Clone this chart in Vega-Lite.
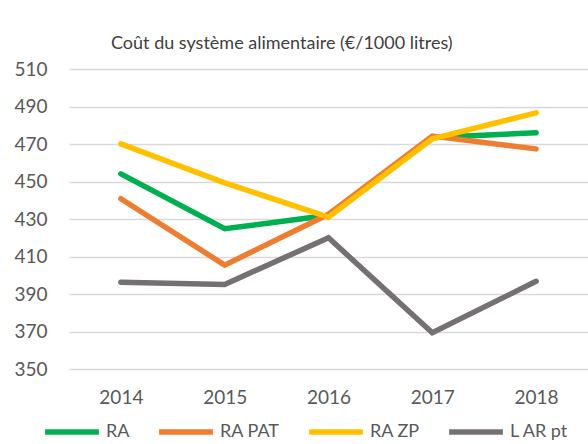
{
  "$schema": "https://vega.github.io/schema/vega-lite/v6.json",
  "width": 519,
  "height": 300,
  "autosize": {"type": "none"},
  "padding": {"left": 69, "top": 69, "right": 0, "bottom": 75},
  "background": "white",
  "config": {
    "view": {"stroke": null},
    "font": "Lato"
  },
  "title": {
    "text": "Coût du système alimentaire (€/1000 litres)",
    "anchor": "start",
    "frame": "group",
    "dx": 42,
    "offset": -7,
    "baseline": "alphabetic",
    "fontSize": 18,
    "fontWeight": "normal",
    "color": "#404040",
    "font": "Lato"
  },
  "data": {
    "values": [
      {"annee": "2014", "serie": "RA", "cout": 454.1},
      {"annee": "2015", "serie": "RA", "cout": 424.8},
      {"annee": "2016", "serie": "RA", "cout": 432},
      {"annee": "2017", "serie": "RA", "cout": 473.5},
      {"annee": "2018", "serie": "RA", "cout": 476},
      {"annee": "2014", "serie": "RA PAT", "cout": 440.8},
      {"annee": "2015", "serie": "RA PAT", "cout": 405.4},
      {"annee": "2016", "serie": "RA PAT", "cout": 432.5},
      {"annee": "2017", "serie": "RA PAT", "cout": 474.2},
      {"annee": "2018", "serie": "RA PAT", "cout": 467.4},
      {"annee": "2014", "serie": "RA ZP", "cout": 470.1},
      {"annee": "2015", "serie": "RA ZP", "cout": 449.3},
      {"annee": "2016", "serie": "RA ZP", "cout": 431},
      {"annee": "2017", "serie": "RA ZP", "cout": 472.8},
      {"annee": "2018", "serie": "RA ZP", "cout": 486.6},
      {"annee": "2014", "serie": "L AR pt", "cout": 396.3},
      {"annee": "2015", "serie": "L AR pt", "cout": 395.1},
      {"annee": "2016", "serie": "L AR pt", "cout": 420},
      {"annee": "2017", "serie": "L AR pt", "cout": 369.3},
      {"annee": "2018", "serie": "L AR pt", "cout": 396.8}
    ]
  },
  "mark": {"type": "line", "strokeWidth": 5.5, "strokeCap": "round", "strokeJoin": "miter"},
  "encoding": {
    "x": {
      "field": "annee",
      "type": "ordinal",
      "scale": {"type": "point", "padding": 0.5},
      "axis": {
        "title": null,
        "domain": false,
        "ticks": false,
        "grid": false,
        "labelAngle": 0,
        "labelPadding": 19,
        "labelFontSize": 19,
        "labelColor": "#595959",
        "labelFont": "Lato"
      }
    },
    "y": {
      "field": "cout",
      "type": "quantitative",
      "scale": {"domain": [350, 510], "nice": false, "zero": false},
      "axis": {
        "title": null,
        "values": [350, 370, 390, 410, 430, 450, 470, 490, 510],
        "domain": false,
        "ticks": false,
        "grid": true,
        "gridColor": "#d9d9d9",
        "gridWidth": 1.5,
        "labelPadding": 22,
        "labelFontSize": 19,
        "labelColor": "#595959",
        "labelFont": "Lato"
      }
    },
    "color": {
      "field": "serie",
      "type": "nominal",
      "sort": ["RA", "RA PAT", "RA ZP", "L AR pt"],
      "scale": {
        "domain": ["RA", "RA PAT", "RA ZP", "L AR pt"],
        "range": ["#00B050", "#ED7D31", "#FFC000", "#767171"]
      },
      "legend": {
        "title": null,
        "orient": "none",
        "direction": "horizontal",
        "legendX": -27,
        "legendY": 333,
        "symbolType": "stroke",
        "symbolSize": 2900,
        "symbolStrokeWidth": 5.5,
        "labelFontSize": 18,
        "labelColor": "#595959",
        "labelFont": "Lato",
        "labelOffset": 4,
        "columnPadding": 18,
        "symbolOpacity": 1
      }
    },
    "order": {"field": "serie"}
  }
}
